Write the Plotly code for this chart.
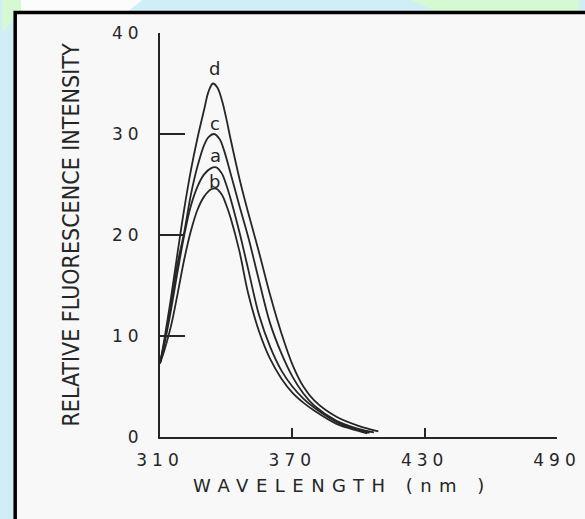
import plotly.graph_objects as go

# ---- data ----
wl_d = [310, 312, 315, 318, 321, 324, 327, 330, 332, 334, 336, 338, 340, 342, 346, 350, 355, 360, 365, 370, 375, 380, 390, 400, 409]
int_d = [7.3, 9.7, 13.8, 18.3, 22.6, 26.4, 29.6, 32.4, 34.2, 35.0, 34.6, 33.4, 31.6, 29.5, 25.6, 22.2, 18.2, 14.0, 10.3, 7.2, 5.0, 3.6, 2.0, 1.1, 0.55]

wl_c = [310, 312, 315, 318, 321, 324, 327, 330, 332, 334.5, 337, 339, 342, 346, 350, 355, 360, 365, 370, 375, 380, 390, 400, 407]
int_c = [7.3, 9.4, 13.2, 17.2, 20.3, 24.0, 26.8, 28.9, 29.7, 30.0, 29.5, 28.4, 26.1, 22.9, 19.8, 15.4, 11.2, 8.3, 6.0, 4.3, 3.1, 1.6, 0.8, 0.45]

wl_a = [310, 312, 315, 318, 321, 324, 327, 330, 333, 335.5, 338, 340, 342, 346, 350, 355, 360, 365, 370, 375, 380, 390, 400, 405]
int_a = [7.3, 9.2, 12.6, 16.4, 20.0, 22.9, 24.8, 26.0, 26.6, 26.7, 26.1, 25.0, 23.6, 20.3, 16.6, 12.0, 8.9, 6.6, 5.0, 3.8, 2.9, 1.5, 0.7, 0.4]

wl_b = [310, 312, 315, 318, 321, 324, 327, 330, 333, 335.5, 338, 340, 342, 346, 350, 355, 360, 365, 370, 375, 380, 390, 400, 404]
int_b = [7.3, 8.6, 11.0, 14.2, 17.6, 20.4, 22.5, 23.8, 24.5, 24.6, 24.0, 23.0, 21.7, 18.4, 14.2, 10.4, 7.7, 5.8, 4.4, 3.4, 2.6, 1.3, 0.6, 0.35]

series_names = ["a", "b", "c", "d"]
series_wl = [wl_a, wl_b, wl_c, wl_d]
series_int = [int_a, int_b, int_c, int_d]
# curve label positions (wavelength, intensity)
label_x = [335.3, 334.6, 334.8, 334.6]
label_y = [27.9, 25.3, 31.0, 36.5]

x_ticks = [310, 370, 430, 490]
y_ticks = [0, 10, 20, 30, 40]
x_title = "WAVELENGTH (nm )"
y_title = "RELATIVE FLUORESCENCE INTENSITY"

# ---- layout geometry ----
FW, FH = 585, 519
ML, MR, MT, MB = 160, 22, 33, 82
PW, PH = FW - ML - MR, FH - MT - MB


def px(x):
    return (x - ML) / PW


def py(y):
    return (FH - MB - y) / PH


INK = "#262626"
CYAN = "#cfeef6"
GREEN = "#d6f9d4"
SHEET = "#f8f8f9"

fig = go.Figure()
for name, xs, ys in zip(series_names, series_wl, series_int):
    fig.add_trace(go.Scatter(
        x=xs, y=ys, mode="lines", name=name,
        line=dict(color=INK, width=1.8, shape="spline", smoothing=1.0),
        showlegend=False, hoverinfo="skip",
    ))

for name, lx, ly in zip(series_names, label_x, label_y):
    fig.add_annotation(x=lx, y=ly, text=name, showarrow=False,
                       font=dict(family="DejaVu Sans", size=18, color=INK))

shapes = [
    # decorative slide background pieces
    dict(type="path", xref="paper", yref="paper", layer="below", line=dict(width=0), fillcolor=GREEN,
         path=f"M {px(0)} {py(0)} L {px(19)} {py(0)} L {px(19)} {py(11)} L {px(0)} {py(32)} Z"),
    dict(type="path", xref="paper", yref="paper", layer="below", line=dict(width=0), fillcolor="#fbfdfb",
         path=f"M {px(19)} {py(0)} L {px(142)} {py(0)} L {px(128)} {py(11)} L {px(19)} {py(11)} Z"),
    dict(type="path", xref="paper", yref="paper", layer="below", line=dict(width=0), fillcolor=GREEN,
         path=f"M {px(413)} {py(0)} L {px(585)} {py(0)} L {px(585)} {py(11)} L {px(440)} {py(11)} Z"),
    # the scanned sheet with black frame
    dict(type="rect", xref="paper", yref="paper", layer="below",
         x0=px(13), y0=py(12.5), x1=px(620), y1=py(560),
         fillcolor=SHEET, line=dict(color="#000000", width=3.5)),
]

fig.update_layout(
    width=FW, height=FH,
    margin=dict(l=ML, r=MR, t=MT, b=MB, pad=0),
    paper_bgcolor=CYAN, plot_bgcolor="rgba(0,0,0,0)",
    shapes=shapes,
    font=dict(family="DejaVu Sans", color=INK),
)

fig.update_xaxes(
    range=[310, 490], tickvals=x_ticks, ticktext=[str(v) for v in x_ticks],
    ticks="inside", ticklen=9, tickwidth=1.6, tickcolor=INK,
    showline=True, linewidth=2, linecolor=INK, showgrid=False, zeroline=False,
    tickfont=dict(family="DejaVu Sans", size=17, color=INK), ticklabelstandoff=7,
    title=dict(text=x_title, font=dict(family="DejaVu Sans", size=18, color=INK), standoff=10),
)
fig.update_yaxes(
    range=[0, 40], tickvals=y_ticks, ticktext=[str(v) for v in y_ticks],
    ticks="inside", ticklen=25, tickwidth=1.6, tickcolor=INK,
    showline=True, linewidth=2, linecolor=INK, showgrid=False, zeroline=False,
    tickfont=dict(family="DejaVu Sans", size=17, color=INK), ticklabelstandoff=11,
    title=dict(text=y_title,
               font=dict(family="Liberation Sans Narrow, DejaVu Sans Condensed, Roboto Condensed, sans-serif",
                         size=23, color=INK), standoff=36),
)

post = """
var gd = document.getElementById('{plot_id}');
function spaceText(){
  gd.querySelectorAll('.xtick text, .ytick text').forEach(function(t){ t.style.letterSpacing = '5px'; });
  var xt = gd.querySelector('.xtitle');
  if (xt) { xt.style.letterSpacing = '7.5px'; xt.setAttribute('transform', 'translate(-16,0)'); }
}
spaceText(); setTimeout(spaceText, 50); setTimeout(spaceText, 400);
if (gd.on) { gd.on('plotly_afterplot', spaceText); }
"""

fig.write_html("out.html", post_script=post)
